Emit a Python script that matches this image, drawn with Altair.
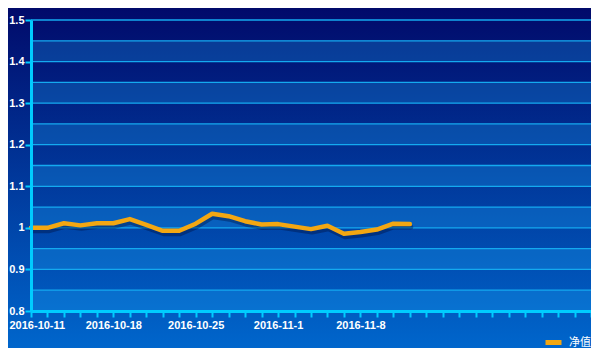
import altair as alt
import pandas as pd

# ---- data ----
dates = [
    "2016-10-11", "2016-10-12", "2016-10-13", "2016-10-14", "2016-10-17",
    "2016-10-18", "2016-10-19", "2016-10-20", "2016-10-21", "2016-10-24",
    "2016-10-25", "2016-10-26", "2016-10-27", "2016-10-28", "2016-10-31",
    "2016-11-1", "2016-11-2", "2016-11-3", "2016-11-4", "2016-11-7",
    "2016-11-8", "2016-11-9", "2016-11-10", "2016-11-11", "2016-11-14",
    "2016-11-15", "2016-11-16", "2016-11-17", "2016-11-18", "2016-11-21",
    "2016-11-22", "2016-11-23", "2016-11-24", "2016-11-25", "2016-11-28",
]
nav = [
    1.000, 1.000, 1.011, 1.006, 1.011, 1.011, 1.021, 1.007, 0.993, 0.993,
    1.010, 1.034, 1.028, 1.016, 1.008, 1.009, 1.003, 0.997, 1.005, 0.986,
    0.990, 0.996, 1.010, 1.009,
]
shown_labels = ["2016-10-11", "2016-10-18", "2016-10-25", "2016-11-1", "2016-11-8"]
y_ticks = [0.8, 0.9, 1.0, 1.1, 1.2, 1.3, 1.4, 1.5]
grid_values = [0.8, 0.85, 0.9, 0.95, 1.0, 1.05, 1.1, 1.15, 1.2, 1.25, 1.3, 1.35, 1.4, 1.45, 1.5]
band_lo = [0.8, 0.9, 1.0, 1.1, 1.2, 1.3, 1.4]
band_hi = [0.85, 0.95, 1.05, 1.15, 1.25, 1.35, 1.45]
series_name = "净值"

W, H = 560, 291
PAD_L, PAD_T, PAD_B = 23, 12, 37

line_df = pd.DataFrame({"date": dates[:len(nav)], "value": nav, "series": series_name})
band_df = pd.DataFrame({"value": band_lo, "hi": band_hi})
grid_df = pd.DataFrame({"value": grid_values})
one_df = pd.DataFrame({"a": [0]})

ydom = [0.8, 1.5]
xscale = alt.Scale(domain=dates, padding=0)
yscale = alt.Scale(domain=ydom, nice=False, zero=False)

AX = "#00ccff"
label_expr = "indexof(" + str(shown_labels) + ", datum.value) >= 0 ? datum.value : ''"
x_axis = alt.Axis(labelExpr=label_expr, labelAngle=0, labelOverlap=False,
                  tickSize=6, tickWidth=2, domainWidth=3, labelPadding=2,
                  labelBaseline="top", title=None, zindex=2,
                  labelFlush=True, labelFlushOffset=22)
y_axis = alt.Axis(values=y_ticks, format="~g", tickSize=6, tickWidth=2,
                  domainWidth=3, labelPadding=1, title=None, zindex=2)

bg = alt.Chart(one_df).mark_rect(
    color=alt.LinearGradient(
        gradient="linear",
        stops=[alt.GradientStop(color="#010a6a", offset=0),
               alt.GradientStop(color="#0066cc", offset=1)],
        x1=0, x2=0, y1=0, y2=1,
    )
).encode(
    x=alt.value(-PAD_L), x2=alt.value(W + 5),
    y=alt.value(-PAD_T), y2=alt.value(H + PAD_B),
)

bands = alt.Chart(band_df).mark_rect(color="#1eb4ff", opacity=0.25).encode(
    x=alt.value(0), x2=alt.value(W),
    y=alt.Y("value:Q", scale=yscale, axis=y_axis),
    y2="hi:Q",
)

grid = alt.Chart(grid_df).mark_rule(color="#14aaf0", strokeWidth=1.3).encode(
    x=alt.value(0), x2=alt.value(W),
    y=alt.Y("value:Q", scale=yscale, axis=y_axis),
)

shadow = alt.Chart(line_df).mark_line(
    color="#000a30", opacity=0.35, strokeWidth=5, yOffset=3, xOffset=1,
    strokeJoin="round", strokeCap="round",
).encode(
    x=alt.X("date:N", scale=xscale, sort=dates, axis=x_axis),
    y=alt.Y("value:Q", scale=yscale, axis=y_axis),
)

line = alt.Chart(line_df).mark_line(
    strokeWidth=4.5, strokeJoin="round", strokeCap="round",
).encode(
    x=alt.X("date:N", scale=xscale, sort=dates, axis=x_axis),
    y=alt.Y("value:Q", scale=yscale, axis=y_axis),
    color=alt.Color("series:N",
                    scale=alt.Scale(domain=[series_name], range=["#f3a712"]),
                    legend=alt.Legend(title=None, orient="none", legendX=512, legendY=312,
                                      symbolType="stroke", symbolStrokeWidth=5,
                                      symbolSize=256, labelColor="white",
                                      labelFont="Noto Sans CJK SC", labelFontSize=11,
                                      labelOffset=5, padding=0)),
)

chart = alt.layer(bg, bands, grid, shadow, line).properties(
    width=W, height=H,
    autosize=alt.AutoSizeParams(type="none"),
    padding={"left": PAD_L, "top": PAD_T, "right": 0, "bottom": PAD_B},
    background="#0040a0",
).configure_view(stroke=None).configure_axis(
    domainColor=AX, tickColor=AX, grid=False,
    labelColor="white", labelFont="Liberation Sans", labelFontWeight="bold",
    labelFontSize=11,
)

chart.save("out.html", embed_options={"renderer": "svg", "actions": False})
